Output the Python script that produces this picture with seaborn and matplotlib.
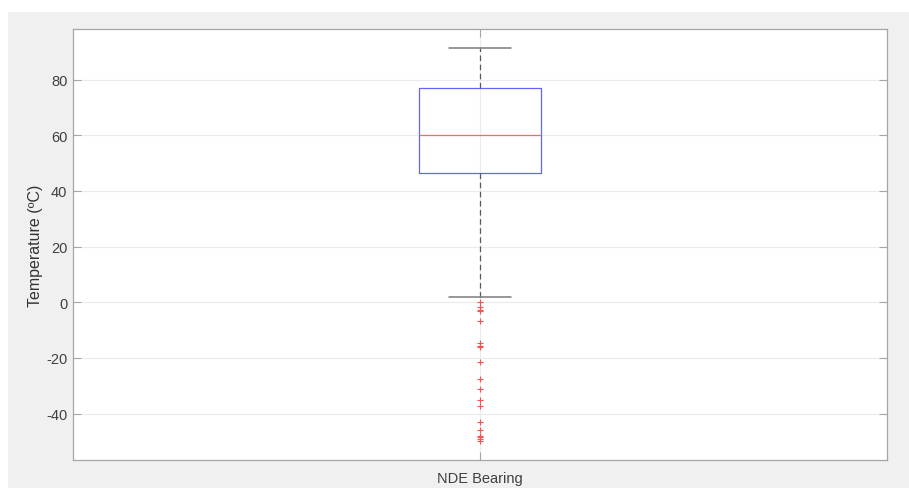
import numpy as np
import pandas as pd
import seaborn as sns
import matplotlib.pyplot as plt
from matplotlib.patches import Rectangle

# Box statistics for the NDE bearing temperature
category = ["NDE Bearing"]
q1 = [46.4]
median = [60.0]
q3 = [76.9]
whisker_low = [1.8]
whisker_high = [91.3]
outliers = [0.0, -1.8, -2.7, -3.3, -6.9, -14.7, -15.6, -16.2, -21.6, -27.6,
            -31.3, -35.0, -37.3, -43.2, -45.8, -48.0, -48.5, -49.2, -50.0]
y_ticks = [-40, -20, 0, 20, 40, 60, 80]

sns.set_theme(style="whitegrid")
plt.rcParams['font.family'] = ['Liberation Sans', 'DejaVu Sans']
plt.rcParams['axes.unicode_minus'] = False

W, H = 909, 489
fig = plt.figure(figsize=(W / 100, H / 100), dpi=100)
fig.patch.set_facecolor("white")
fig.add_artist(Rectangle((8 / W, 0), 1 - 8 / W, (H - 13) / H,
                         transform=fig.transFigure, facecolor="#f0f0f0",
                         edgecolor="none", zorder=-10))

ax = fig.add_axes([73 / W, (H - 461) / H, (887 - 73) / W, (461 - 30) / H])
ax.set_facecolor("white")

stats = [dict(label=category[i], q1=q1[i], med=median[i], q3=q3[i],
              whislo=whisker_low[i], whishi=whisker_high[i], fliers=[])
         for i in range(len(category))]
positions = list(range(1, len(category) + 1))

ax.bxp(stats, positions=positions, widths=0.15, capwidths=0.075,
       showfliers=False,
       boxprops=dict(color="#6464ff", linewidth=0.9),
       medianprops=dict(color="#ff6464", linewidth=0.9),
       whiskerprops=dict(color="#5a5a5a", linewidth=0.9, linestyle=(0, (4.5, 2.8))),
       capprops=dict(color="#7a7a7a", linewidth=1.1),
       manage_ticks=False, zorder=3)

flier_df = pd.DataFrame({"pos": [positions[0]] * len(outliers), "temp": outliers})
sns.scatterplot(data=flier_df, x="pos", y="temp", marker="+", color="#ff5050",
                s=18, linewidth=0.8, ax=ax, zorder=4, legend=False)

ax.set_xlim(0.5, 1.5)
ax.set_ylim(-56.7, 98.2)
ax.set_yticks(y_ticks)
ax.set_xticks(positions)
ax.set_xticklabels(category)
ax.set_xlabel("")
ax.set_ylabel("Temperature (ºC)", fontsize=11.5, color="#333333", labelpad=2)

ax.grid(True, color="#ebebeb", linewidth=0.8)
ax.set_axisbelow(True)
for s in ax.spines.values():
    s.set_visible(True)
    s.set_color("#a6a6a6")
    s.set_linewidth(0.9)

ax.tick_params(axis="both", direction="in", length=5.5, width=0.8,
               color="#a6a6a6", labelsize=10.5, labelcolor="#404040",
               left=True, right=True, top=True, bottom=True)
ax.tick_params(axis="x", pad=8)
ax.tick_params(axis="y", pad=4)

fig.savefig("out.png", dpi=100, facecolor=fig.get_facecolor())
